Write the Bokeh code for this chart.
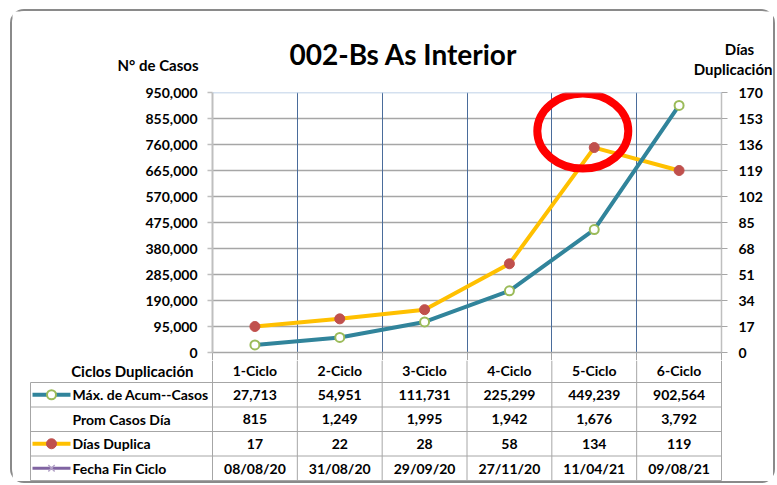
from bokeh.plotting import figure
from bokeh.models import (Range1d, LinearAxis, FixedTicker, NumeralTickFormatter, Span, Grid)
from bokeh.layouts import column
from bokeh.core.properties import value
from bokeh.embed import file_html
from bokeh.resources import INLINE

# ---------------- data ----------------
categories = ["1-Ciclo", "2-Ciclo", "3-Ciclo", "4-Ciclo", "5-Ciclo", "6-Ciclo"]
max_acum_casos = [27713, 54951, 111731, 225299, 449239, 902564]
prom_casos_dia = [815, 1249, 1995, 1942, 1676, 3792]
dias_duplica = [17, 22, 28, 58, 134, 119]
fecha_fin_ciclo = ["08/08/20", "31/08/20", "29/09/20", "27/11/20", "11/04/21", "09/08/21"]
casos_ticks = [0, 95000, 190000, 285000, 380000, 475000, 570000, 665000, 760000, 855000, 950000]
dias_ticks = [0, 17, 34, 51, 68, 85, 102, 119, 136, 153, 170]
row_labels = ["Máx. de Acum--Casos", "Prom Casos Día", "Días Duplica", "Fecha Fin Ciclo"]
title_text = "002-Bs As Interior"
left_axis_title = "N° de Casos"
right_axis_title = ["Días", "Duplicación"]
x_title = "Ciclos Duplicación"

# ---------------- style ----------------
FONT = "Lato"
TEAL = "#31849b"
GREEN = "#9bbb59"
ORANGE = "#ffc000"
RED = "#c0504d"
PURPLE = "#8064a2"
LAV = "#b3a2c7"
GRAY = "#a6a6a6"
LGRAY = "#bfbfbf"

W = 761
HT = 73            # header strip (titles)
FL, FR = 200, 709  # chart frame, horizontal
FTOP, FH, FBOT = 8, 260, 8
HA = FTOP + FH + FBOT
HB = 121
HDR = 22           # header-row part inside table figure
ROWH = 24.5
n = len(categories)
ppu = (FR - FL) / n
xc = [i + 0.5 for i in range(n)]

def tf(size="14px"):
    return dict(text_font=value(FONT), text_font_style="bold", text_font_size=size,
                text_color="black", text_baseline="middle")

# ---------------- title strip ----------------
pT = figure(width=W, height=HT, output_backend="svg", toolbar_location=None,
            x_range=Range1d(0, W), y_range=Range1d(HT, 0),
            min_border=0, x_axis_type=None, y_axis_type=None)
pT.frame_align = False
pT.outline_line_color = None
pT.text(x=[277], y=[42], text=[title_text], text_align="left", **tf("28px"))
pT.text(x=[186], y=[53], text=[left_axis_title], text_align="right", **tf("15px"))
pT.text(x=[727], y=[37], text=[right_axis_title[0]], text_align="center", **tf("15px"))
pT.text(x=[760], y=[57], text=[right_axis_title[1]], text_align="right", **tf("15px"))

# ---------------- chart figure ----------------
pA = figure(width=W, height=HA, output_backend="svg", toolbar_location=None,
            x_range=Range1d(0, n), y_range=Range1d(0, casos_ticks[-1]),
            min_border_left=FL, min_border_right=W - FR,
            min_border_top=FTOP, min_border_bottom=FBOT,
            x_axis_type=None, y_axis_type=None)
pA.frame_align = False
pA.extra_y_ranges = {"dias": Range1d(0, dias_ticks[-1])}
pA.outline_line_color = None

lab_kw = dict(major_label_text_font=FONT, major_label_text_font_style="bold",
              major_label_text_font_size="14px", major_label_text_color="black")

ay = LinearAxis(ticker=FixedTicker(ticks=casos_ticks), formatter=NumeralTickFormatter(format="0,0"),
                axis_line_color=LGRAY, axis_line_width=2, major_tick_line_color=LGRAY,
                major_tick_line_width=1.5, major_tick_out=5, major_tick_in=0,
                minor_tick_line_color=None, major_label_standoff=10, **lab_kw)
pA.add_layout(ay, "left")

ay2 = LinearAxis(y_range_name="dias", ticker=FixedTicker(ticks=dias_ticks),
                 axis_line_color=LGRAY, axis_line_width=1.5, major_tick_line_color=GRAY,
                 major_tick_line_width=1, major_tick_out=6, major_tick_in=0,
                 minor_tick_line_color=None, major_label_standoff=11, **lab_kw)
pA.add_layout(ay2, "right")

ax = LinearAxis(ticker=FixedTicker(ticks=[], minor_ticks=list(range(n + 1))),
                axis_line_color=GRAY, axis_line_width=1.5,
                major_tick_line_color=None, major_tick_out=0, major_tick_in=0,
                minor_tick_line_color=GRAY, minor_tick_line_width=1,
                minor_tick_out=FBOT, minor_tick_in=0,
                major_label_standoff=0, major_label_text_font_size="0px")
pA.add_layout(ax, "below")

pA.add_layout(Grid(dimension=1, ticker=FixedTicker(ticks=casos_ticks),
                   grid_line_color=GRAY, grid_line_width=1.5))
pA.add_layout(Grid(dimension=0, ticker=FixedTicker(ticks=list(range(1, n))),
                   grid_line_color="#4a6c9b", grid_line_width=1))
pA.add_layout(Span(location=casos_ticks[-1], dimension="width",
                   line_color="#a9c1df", line_width=1.5))

# series
pA.line(xc, dias_duplica, y_range_name="dias", line_color=ORANGE, line_width=4)
pA.scatter(xc, dias_duplica, y_range_name="dias", marker="circle", size=10,
           fill_color=RED, line_color=RED)
pA.line(xc, max_acum_casos, line_color=TEAL, line_width=4)
pA.scatter(xc, max_acum_casos, marker="circle", size=9, fill_color="white",
           line_color=GREEN, line_width=2)

# red highlight around the 5-Ciclo peak of Días
hi = dias_duplica.index(max(dias_duplica))
pA.ellipse(x=[xc[hi] - 0.135], y=[dias_duplica[hi] + 10.8], y_range_name="dias",
           width=91, height=75, width_units="screen", height_units="screen",
           fill_color=None, line_color="#ff0000", line_width=8)

# ---------------- table figure (header row + data table) ----------------
BL, BR = 17, FR + 1
xl = -(FL - 18) / ppu
pB = figure(width=W, height=HB, output_backend="svg", toolbar_location=None,
            x_range=Range1d(-(FL - BL) / ppu, n + (BR - FR) / ppu),
            y_range=Range1d((HB - HDR) / ROWH, -HDR / ROWH),
            min_border=0, min_border_left=BL, min_border_right=W - BR,
            x_axis_type=None, y_axis_type=None)
pB.frame_align = False
pB.outline_line_color = None

ytop = -HDR / ROWH
rows_y = list(range(5))
pB.segment(x0=[xl] * 5, x1=[n] * 5, y0=rows_y, y1=rows_y, line_color=GRAY, line_width=1)
vx = list(range(n + 1))
pB.segment(x0=vx, x1=vx, y0=[ytop] * len(vx), y1=[4] * len(vx), line_color=GRAY, line_width=1)
pB.segment(x0=[xl], x1=[xl], y0=[0], y1=[4], line_color=GRAY, line_width=1)

# header row
pB.text(x=xc, y=[(9.5 - HDR) / ROWH] * n, text=categories, text_align="center", **tf())
pB.text(x=[-(FL - 181) / ppu], y=[(10.5 - HDR) / ROWH], text=[x_title], text_align="right", **tf("15px"))

lx0, lx1, lxm = -(FL - 20) / ppu, -(FL - 58) / ppu, -(FL - 39) / ppu
tx = -(FL - 60) / ppu

# legend keys
pB.segment(x0=[lx0], x1=[lx1], y0=[0.5], y1=[0.5], line_color=TEAL, line_width=4)
pB.scatter([lxm], [0.5], marker="circle", size=9, fill_color="white", line_color=GREEN, line_width=2)
pB.segment(x0=[lx0], x1=[lx1], y0=[2.5], y1=[2.5], line_color=ORANGE, line_width=4)
pB.scatter([lxm], [2.5], marker="circle", size=10, fill_color=RED, line_color=RED)
pB.segment(x0=[lx0], x1=[lx1], y0=[3.5], y1=[3.5], line_color=PURPLE, line_width=3)
pB.scatter([lxm], [3.5], marker="x", size=9, line_color=LAV, line_width=1.5)

pB.text(x=[tx] * 4, y=[0.5, 1.5, 2.5, 3.5], text=row_labels, text_align="left", **tf())

cells = [[f"{v:,}" for v in max_acum_casos],
         [f"{v:,}" for v in prom_casos_dia],
         [f"{v:,}" for v in dias_duplica],
         list(fecha_fin_ciclo)]
for r, vals in enumerate(cells):
    pB.text(x=xc, y=[r + 0.5] * n, text=vals, text_align="center", **tf())

layout = column(pT, pA, pB, spacing=0,
                styles={"border": "2px solid #8a8a8a", "border-radius": "14px",
                        "margin-left": "10px", "margin-top": "9px"})

open("out.html", "w").write(file_html(layout, INLINE))
